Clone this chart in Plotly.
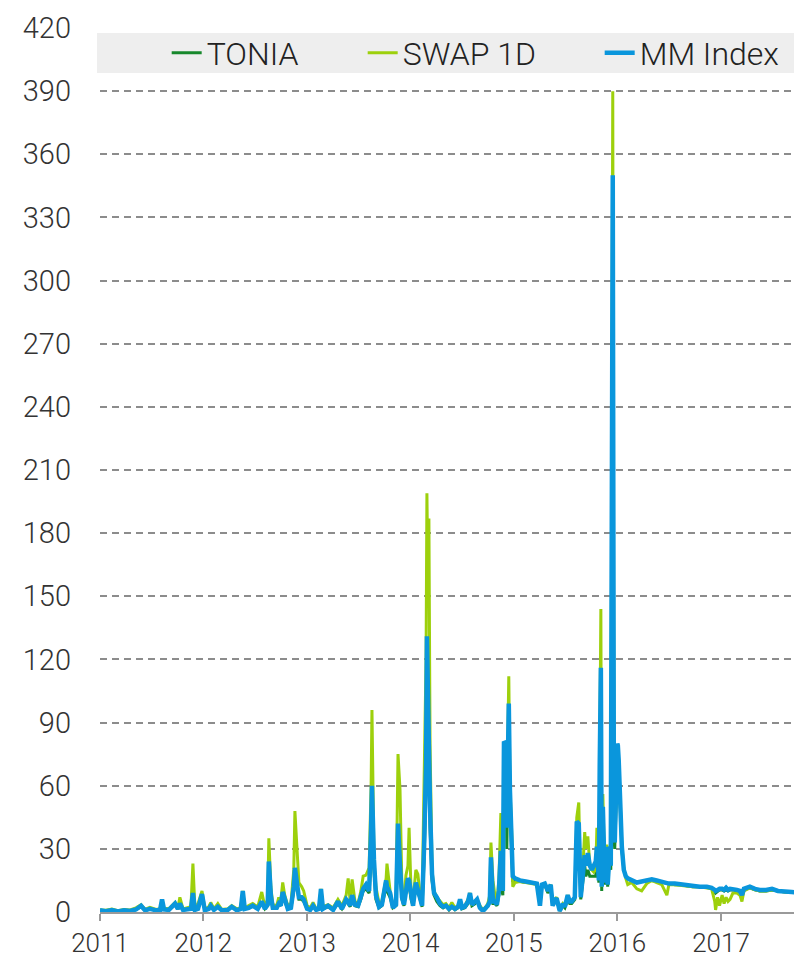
import plotly.graph_objects as go

dates = [
    "2011-01-01", "2011-01-22", "2011-02-12", "2011-03-05", "2011-03-27", "2011-04-17",
    "2011-05-08", "2011-05-26", "2011-06-09", "2011-06-26", "2011-07-18", "2011-08-01",
    "2011-08-08", "2011-08-15", "2011-09-01", "2011-09-23", "2011-10-03", "2011-10-10",
    "2011-10-21", "2011-11-04", "2011-11-18", "2011-11-25", "2011-12-02", "2011-12-13",
    "2011-12-27",
    "2012-01-06", "2012-01-20", "2012-01-27", "2012-02-07", "2012-02-21", "2012-03-06",
    "2012-03-27", "2012-04-10", "2012-04-28", "2012-05-12", "2012-05-19", "2012-05-26",
    "2012-06-09", "2012-06-23", "2012-07-11", "2012-07-25", "2012-08-05", "2012-08-15",
    "2012-08-19", "2012-08-26", "2012-09-02", "2012-09-16", "2012-09-23", "2012-09-30",
    "2012-10-07", "2012-10-14", "2012-10-25", "2012-11-05", "2012-11-15", "2012-11-19",
    "2012-11-26", "2012-12-03", "2012-12-13", "2012-12-20",
    "2013-01-01", "2013-01-12", "2013-01-22", "2013-02-02", "2013-02-12", "2013-02-19",
    "2013-02-26", "2013-03-16", "2013-04-03", "2013-04-20", "2013-05-04", "2013-05-19",
    "2013-05-26", "2013-06-02", "2013-06-09", "2013-06-19", "2013-06-30", "2013-07-10",
    "2013-07-18", "2013-07-28", "2013-08-08", "2013-08-15", "2013-08-18", "2013-08-25",
    "2013-09-01", "2013-09-12", "2013-09-22", "2013-10-07", "2013-10-10", "2013-10-21",
    "2013-10-31", "2013-11-11", "2013-11-18", "2013-11-25", "2013-12-02", "2013-12-09",
    "2013-12-16", "2013-12-23", "2013-12-27",
    "2014-01-03", "2014-01-10", "2014-01-20", "2014-01-27", "2014-02-04", "2014-02-11",
    "2014-02-18", "2014-02-25", "2014-02-28", "2014-03-04", "2014-03-07", "2014-03-11",
    "2014-03-18", "2014-03-25", "2014-04-04", "2014-04-15", "2014-04-26", "2014-05-06",
    "2014-05-17", "2014-05-27", "2014-06-07", "2014-06-18", "2014-06-25", "2014-07-02",
    "2014-07-12", "2014-07-23", "2014-07-30", "2014-08-06", "2014-08-17", "2014-08-24",
    "2014-09-03", "2014-09-14", "2014-09-24", "2014-10-01", "2014-10-08", "2014-10-12",
    "2014-10-19", "2014-10-26", "2014-11-02", "2014-11-09", "2014-11-16", "2014-11-20",
    "2014-11-23", "2014-11-27", "2014-12-04", "2014-12-07", "2014-12-14", "2014-12-18",
    "2014-12-25", "2014-12-28",
    "2015-01-05", "2015-01-22", "2015-02-12", "2015-03-05", "2015-03-23", "2015-04-03",
    "2015-04-10", "2015-04-20", "2015-05-01", "2015-05-11", "2015-05-18", "2015-05-25",
    "2015-06-01", "2015-06-09", "2015-06-12", "2015-06-23", "2015-06-30", "2015-07-10",
    "2015-07-17", "2015-07-24", "2015-08-04", "2015-08-11", "2015-08-18", "2015-08-25",
    "2015-09-01", "2015-09-08", "2015-09-12", "2015-09-19", "2015-09-26", "2015-10-03",
    "2015-10-10", "2015-10-17", "2015-10-21", "2015-10-28", "2015-10-31", "2015-11-04",
    "2015-11-07", "2015-11-11", "2015-11-18", "2015-11-25", "2015-11-28", "2015-12-06",
    "2015-12-09", "2015-12-13", "2015-12-16", "2015-12-20", "2015-12-23",
    "2016-01-01", "2016-01-03", "2016-01-06", "2016-01-10", "2016-01-17", "2016-01-24",
    "2016-01-31", "2016-02-07", "2016-02-21", "2016-03-10", "2016-03-27", "2016-04-14",
    "2016-05-02", "2016-05-19", "2016-06-06", "2016-06-24", "2016-07-01", "2016-07-22",
    "2016-08-16", "2016-09-02", "2016-09-23", "2016-10-18", "2016-11-12", "2016-11-29",
    "2016-12-10", "2016-12-13", "2016-12-20", "2016-12-27",
    "2017-01-05", "2017-01-12", "2017-01-19", "2017-01-26", "2017-02-02", "2017-02-12",
    "2017-02-26", "2017-03-09", "2017-03-16", "2017-03-23", "2017-04-13", "2017-05-01",
    "2017-05-18", "2017-06-09", "2017-06-30", "2017-07-21", "2017-08-15", "2017-09-08",
    "2017-10-14",
]

tonia = [
    0.8, 0.5, 1.0, 0.4, 0.9, 0.6,
    1.2, 2.5, 0.8, 1.5, 0.8, 1.0,
    5.0, 1.2, 1.0, 3.5, 1.5, 3.5,
    1.0, 1.2, 1.5, 8.0, 1.0, 1.5,
    7.5,
    1.0, 1.5, 3.0, 1.0, 2.5, 0.8,
    1.0, 2.5, 0.8, 1.5, 9.0, 1.5,
    2.0, 3.0, 1.5, 4.5, 1.5, 3.0,
    22.0, 8.0, 2.0, 2.0, 4.0, 3.0,
    8.5, 5.0, 1.5, 2.0, 10.0, 20.0,
    13.0, 6.0, 6.0, 5.0,
    1.5, 1.0, 3.0, 1.0, 1.5, 10.0,
    1.5, 2.5, 1.0, 4.0, 1.5, 5.0,
    4.0, 2.5, 6.5, 3.0, 2.5, 6.0,
    10.0, 11.0, 9.0, 25.0, 45.0, 20.0,
    6.0, 2.0, 3.0, 12.0, 10.0, 7.0,
    2.0, 3.0, 35.0, 18.0, 6.0, 3.0,
    10.0, 14.0, 13.0,
    6.0, 3.0, 12.0, 10.0, 6.0, 2.5,
    25.0, 60.0, 125.0, 70.0, 80.0, 40.0,
    15.0, 8.0, 5.0, 3.0, 2.0, 3.0,
    1.0, 2.5, 1.0, 2.0, 5.0, 1.5,
    2.0, 4.0, 8.0, 3.0, 4.0, 5.5,
    2.0, 0.5, 1.5, 3.0, 5.0, 22.0,
    4.0, 4.0, 3.0, 8.0, 25.0, 10.0,
    8.0, 70.0, 70.0, 30.0, 90.0, 50.0,
    28.0, 15.0,
    15.0, 14.5, 14.0, 14.0, 13.5, 3.0,
    12.5, 13.0, 9.0, 12.0, 3.0, 5.0,
    6.0, 2.0, 0.5, 3.0, 2.0, 6.0,
    4.0, 4.0, 6.0, 40.0, 38.0, 6.0,
    15.0, 22.0, 17.0, 20.0, 17.0, 17.0,
    17.0, 17.0, 25.0, 14.0, 60.0, 110.0,
    10.0, 48.0, 13.0, 30.0, 12.0, 30.0,
    20.0, 150.0, 340.0, 36.0, 30.0,
    75.0, 76.0, 70.0, 52.0, 30.0, 20.0,
    17.0, 15.5, 15.0, 14.0, 14.5, 15.0,
    15.0, 14.5, 14.0, 13.5, 13.5, 13.0,
    13.0, 12.5, 12.0, 12.0, 12.0, 11.0,
    10.0, 9.0, 10.0, 10.5,
    10.5, 10.0, 10.5, 10.0, 10.5, 10.5,
    10.0, 9.5, 8.0, 10.5, 11.5, 10.5,
    10.0, 10.0, 10.5, 10.0, 9.5, 9.5,
    9.0,
]

swap_1d = [
    1.0, 0.8, 1.4, 0.6, 1.2, 1.0,
    2.0, 3.5, 1.2, 2.2, 1.2, 1.5,
    6.0, 1.8, 1.5, 4.5, 2.0, 7.0,
    1.5, 2.0, 2.5, 23.0, 2.0, 4.0,
    10.0,
    1.5, 2.5, 4.5, 1.5, 4.0, 1.2,
    1.5, 3.0, 1.5, 2.0, 10.0, 2.0,
    3.0, 4.0, 2.5, 9.5, 2.5, 6.0,
    35.0, 12.0, 3.5, 3.0, 7.0, 5.0,
    14.0, 8.0, 3.0, 4.0, 20.0, 48.0,
    31.0, 14.0, 12.0, 10.0,
    3.0, 2.0, 4.5, 1.5, 2.0, 11.0,
    2.5, 3.5, 2.0, 6.0, 3.0, 8.0,
    16.0, 5.0, 15.5, 5.0, 4.0, 10.0,
    17.0, 17.5, 21.0, 60.0, 96.0, 25.0,
    12.0, 4.0, 5.0, 16.0, 23.0, 10.0,
    3.0, 5.0, 75.0, 58.0, 10.0, 5.0,
    17.5, 22.0, 40.0,
    10.0, 5.0, 20.0, 18.0, 8.0, 4.0,
    62.0, 120.0, 199.0, 150.0, 187.0, 80.0,
    20.0, 10.0, 7.0, 5.0, 3.5, 4.0,
    2.0, 4.5, 2.0, 3.0, 5.5, 2.5,
    3.0, 6.0, 9.0, 4.0, 5.0, 6.0,
    3.0, 1.0, 2.5, 4.0, 8.0, 33.0,
    15.0, 8.0, 5.0, 15.0, 47.0, 20.0,
    15.0, 47.0, 45.0, 50.0, 112.0, 60.0,
    35.0, 12.0,
    14.0, 14.5, 14.0, 13.5, 13.0, 4.0,
    13.0, 13.5, 11.0, 13.0, 4.0, 6.0,
    7.0, 2.5, 1.0, 4.0, 3.0, 8.0,
    5.0, 5.0, 7.0, 45.0, 52.0, 8.0,
    20.0, 38.0, 30.0, 36.0, 22.0, 20.0,
    19.0, 20.0, 40.0, 17.0, 80.0, 144.0,
    12.0, 56.0, 15.0, 32.0, 14.0, 31.0,
    25.0, 200.0, 390.0, 60.0, 35.0,
    78.0, 78.0, 72.0, 55.0, 32.0, 21.0,
    16.0, 13.0, 14.0, 11.0, 10.0, 13.5,
    15.0, 14.0, 13.0, 8.0, 13.0, 13.0,
    12.5, 12.5, 12.0, 12.0, 11.5, 11.0,
    5.0, 1.0, 7.0, 3.0,
    8.0, 4.0, 7.0, 5.0, 6.0, 9.0,
    9.0, 8.0, 5.0, 10.0, 11.5, 10.5,
    10.0, 10.0, 10.5, 10.0, 9.5, 9.5,
    9.0,
]

mm_index = [
    0.8, 0.4, 0.9, 0.3, 0.8, 0.5,
    1.2, 3.0, 0.8, 1.5, 0.8, 1.0,
    6.0, 1.2, 1.0, 4.0, 1.5, 4.0,
    1.0, 1.2, 1.5, 9.0, 1.0, 1.5,
    8.5,
    0.8, 1.5, 3.0, 1.0, 2.5, 0.8,
    1.0, 2.5, 0.8, 1.5, 10.0, 1.5,
    2.0, 3.0, 1.5, 5.0, 1.5, 3.5,
    24.0, 8.0, 2.0, 2.0, 4.0, 3.0,
    9.5, 5.5, 1.5, 2.0, 12.0, 21.0,
    15.0, 7.0, 7.0, 6.0,
    1.5, 1.0, 3.0, 1.0, 1.5, 11.0,
    1.5, 3.0, 1.0, 5.0, 1.5, 6.0,
    5.0, 3.0, 8.0, 3.5, 3.0, 7.0,
    11.0, 13.0, 10.0, 40.0, 60.0, 25.0,
    8.0, 2.5, 3.5, 15.0, 12.0, 9.0,
    2.0, 3.5, 42.0, 22.0, 7.0, 3.5,
    12.0, 16.0, 15.0,
    7.0, 3.0, 14.0, 11.0, 6.0, 3.0,
    31.0, 70.0, 131.0, 90.0, 85.0, 50.0,
    18.0, 9.0, 7.0, 4.0, 2.5, 3.0,
    1.5, 2.5, 1.5, 2.5, 6.0, 2.0,
    2.5, 5.0, 9.0, 3.5, 5.0, 6.0,
    2.0, 0.5, 2.0, 3.0, 5.0, 26.0,
    5.0, 5.0, 3.5, 10.0, 29.0, 12.0,
    10.0, 81.0, 80.0, 40.0, 99.0, 58.0,
    32.0, 17.0,
    16.0, 15.0, 14.5, 14.0, 13.5, 3.0,
    13.0, 13.5, 10.0, 13.0, 3.0, 5.5,
    6.5, 2.0, 0.5, 4.0, 2.5, 8.0,
    5.0, 5.0, 7.0, 43.0, 42.0, 7.0,
    18.0, 27.0, 22.0, 28.0, 22.0, 20.0,
    22.0, 24.0, 31.0, 15.0, 70.0, 116.0,
    12.0, 50.0, 14.0, 31.0, 13.0, 31.0,
    22.0, 180.0, 350.0, 40.0, 33.0,
    80.0, 79.0, 72.0, 55.0, 31.0, 20.0,
    17.0, 16.0, 15.0, 14.0, 14.5, 15.0,
    15.5, 15.0, 14.5, 14.0, 13.5, 13.5,
    13.0, 13.0, 12.5, 12.0, 12.0, 11.5,
    10.5, 10.0, 10.5, 11.0,
    11.0, 10.5, 11.5, 10.5, 11.0, 11.0,
    10.5, 10.0, 8.0, 11.0, 12.0, 11.0,
    10.5, 10.5, 11.0, 10.0, 10.0, 9.5,
    9.0,
]

y_ticks = list(range(0, 421, 30))
x_ticks = ["2011-01-01", "2012-01-01", "2013-01-01", "2014-01-01",
           "2015-01-01", "2016-01-01", "2017-01-01"]
x_tick_labels = ["2011", "2012", "2013", "2014", "2015", "2016", "2017"]

FONT = "Roboto"
fig = go.Figure()
fig.add_trace(go.Scatter(x=dates, y=tonia, name="TONIA", mode="lines",
                         legendwidth=151,
                         line=dict(color="#17882c", width=3)))
fig.add_trace(go.Scatter(x=dates, y=swap_1d, name="SWAP 1D", mode="lines",
                         legendwidth=192,
                         line=dict(color="#9dd00c", width=3)))
fig.add_trace(go.Scatter(x=dates, y=mm_index, name="MM Index", mode="lines",
                         line=dict(color="#0a96dc", width=4.5)))

fig.update_layout(
    width=794, height=950,
    margin=dict(l=92, r=0, t=20, b=46),
    paper_bgcolor="white", plot_bgcolor="white",
    showlegend=True,
    legend=dict(orientation="h", x=0.095, xanchor="left", y=0.9717, yanchor="middle",
                bgcolor="rgba(0,0,0,0)",
                font=dict(family=FONT, size=32, color="#222222", weight=300)),
    shapes=[dict(type="rect", xref="paper", yref="paper",
                 x0=-0.0043, x1=1.0, y0=0.949, y1=0.9943,
                 fillcolor="#eeeeee", line=dict(width=0), layer="above")],
)
fig.update_xaxes(
    type="date", range=["2011-01-01", "2017-10-14"],
    tickvals=x_ticks, ticktext=x_tick_labels,
    showgrid=False, zeroline=False,
    showline=True, linecolor="#9a9a9a", linewidth=2,
    ticks="outside", ticklen=7, tickwidth=2, tickcolor="#9a9a9a",
    tickfont=dict(family=FONT, size=26, color="#333333", weight=300),
)
fig.update_yaxes(
    range=[0, 420], tickvals=y_ticks,
    showgrid=True, gridcolor="#8c8c8c", gridwidth=2, griddash="7px,5px",
    zeroline=False, showline=False, ticks="",
    ticklabelstandoff=28,
    tickfont=dict(family=FONT, size=29, color="#333333", weight=300),
)

fig.write_html("out.html")
